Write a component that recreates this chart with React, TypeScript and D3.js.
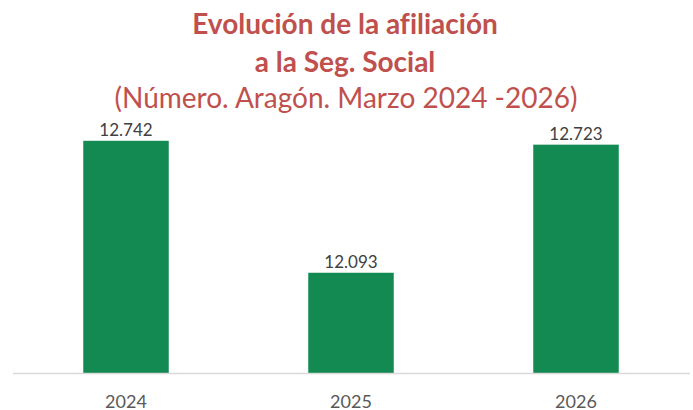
import React from "react";
import * as d3 from "d3";

const categories = ["2024", "2025", "2026"];
const values = [12742, 12093, 12723];
const valueLabels = ["12.742", "12.093", "12.723"];
const titleLines = ["Evolución de la afiliación", "a la Seg. Social"];
const subtitle = "(Número. Aragón. Marzo 2024 -2026)";

const W = 693;
const H = 410;
const FONT = "Lato, 'Open Sans', sans-serif";
const noLig = { fontVariantLigatures: "none" as const };

export default function App() {
  const x = d3
    .scaleBand<string>()
    .domain(categories)
    .range([13.5, 688.5])
    .paddingInner(0.62)
    .paddingOuter(0.31);
  const y = d3.scaleLinear().domain([11600, 12800]).range([373, 129]);
  const base = y(11600);

  return (
    <svg
      width={W}
      height={H}
      style={{ position: "absolute", left: 0, top: 0, background: "#fff" }}
    >
      <text x={345} y={34} textAnchor="middle" fill="#C0504D" fontFamily={FONT} fontWeight="bold" fontSize={28} style={noLig}>
        {titleLines[0]}
      </text>
      <text x={345} y={72} textAnchor="middle" fill="#C0504D" fontFamily={FONT} fontWeight="bold" fontSize={28} style={noLig}>
        {titleLines[1]}
      </text>
      <text x={346} y={108} textAnchor="middle" fill="#C0504D" fontFamily={FONT} fontSize={28} style={noLig}>
        {subtitle}
      </text>
      {categories.map((c, i) => (
        <g key={c}>
          <rect
            x={x(c)}
            y={y(values[i])}
            width={x.bandwidth()}
            height={base - y(values[i])}
            fill="#128A51"
          />
          <text
            x={(x(c) as number) + x.bandwidth() / 2}
            y={y(values[i]) - 5}
            textAnchor="middle"
            fill="#404040"
            fontFamily={FONT}
            fontSize={17}
          >
            {valueLabels[i]}
          </text>
          <text
            x={(x(c) as number) + x.bandwidth() / 2}
            y={407.5}
            textAnchor="middle"
            fill="#595959"
            fontFamily={FONT}
            fontSize={18}
          >
            {c}
          </text>
        </g>
      ))}
      <line x1={13} x2={690} y1={base + 0.5} y2={base + 0.5} stroke="#D9D9D9" strokeWidth={1.5} />
    </svg>
  );
}
